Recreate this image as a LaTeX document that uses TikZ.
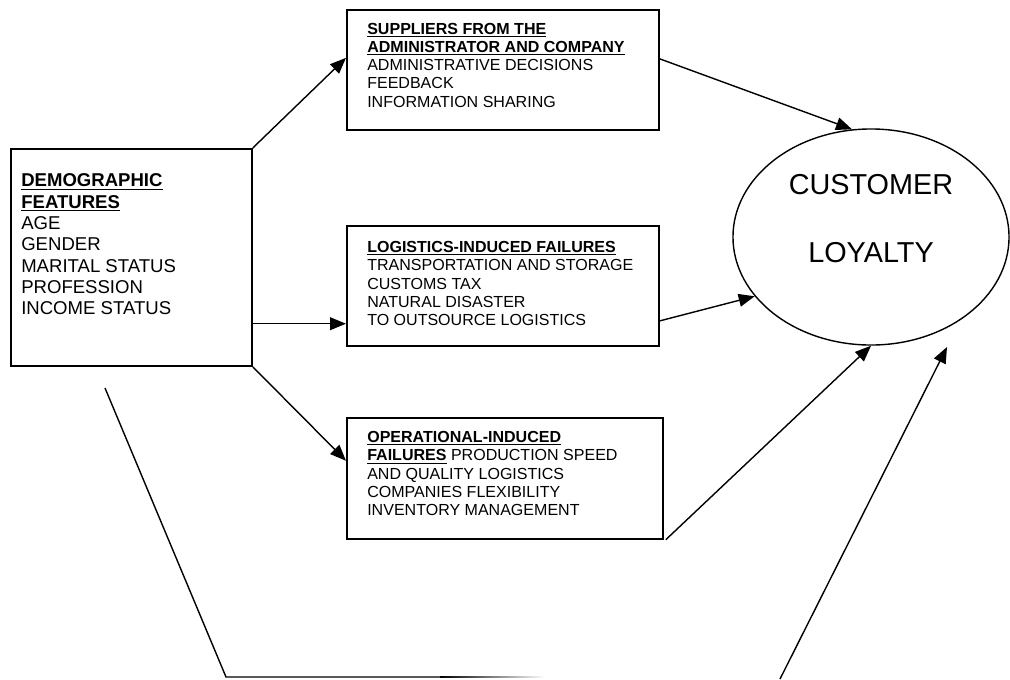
\documentclass[tikz,border=0pt]{standalone}
\usepackage{fontspec}
\setmainfont{Liberation Sans}
\usetikzlibrary{positioning, arrows.meta, shapes.geometric}
\tikzset{
    scatola/.style = {draw=black, line width=1.2pt, inner sep=0pt, anchor=north west},
    testo/.style = {align=left, anchor=north west, inner sep=0pt, font=\fontsize{11.4}{13}\selectfont},
    freccia/.style = {line width=1pt, arrows = {-Triangle[length=4mm, width=3.2mm]}}
}

\begin{document}
\begin{tikzpicture}[
    x=0.025cm, y=-0.025cm,
    testo demo/.style = {testo, font=\fontsize{13.2}{15.2}\selectfont},
    ellisse/.style = {ellipse, draw=black, line width=1pt, inner sep=0pt, minimum width=6.9cm, minimum height=5.4cm},
    testo grande/.style = {align=center, inner sep=0pt, font=\fontsize{20.5}{48.4}\selectfont},
    linea/.style = {line width=1pt}
    ]
    \useasboundingbox (0,0) rectangle (1010,679);

    %%% Boxes
    % demographic
    \node[scatola, minimum width=6.025cm, minimum height=5.425cm] (demo) at (10,148) {};
    \node[testo demo, below right=0.635cm and 0.275cm of demo.north west] (demotesto)
        {\underline{\textbf{DEMOGRAPHIC}}\\ \underline{\textbf{FEATURES}}\\ AGE\\ GENDER\\ MARITAL STATUS\\ PROFESSION\\ INCOME STATUS};

    % suppliers
    \node[scatola, minimum width=7.8cm, minimum height=3.0cm] (supp) at (346,9) {};
    \node[testo, below right=0.34cm and 0.525cm of supp.north west] (supptesto)
        {\underline{\textbf{SUPPLIERS FROM THE}}\\ \underline{\textbf{ADMINISTRATOR AND COMPANY}}\\ ADMINISTRATIVE DECISIONS\\ FEEDBACK\\ INFORMATION SHARING};

    % logistics
    \node[scatola, minimum width=7.8cm, minimum height=3.0cm] (logi) at (346,225) {};
    \node[testo, below right=0.4cm and 0.525cm of logi.north west] (logitesto)
        {\underline{\textbf{LOGISTICS-INDUCED FAILURES}}\\ TRANSPORTATION AND STORAGE\\ CUSTOMS TAX\\ NATURAL DISASTER\\ TO OUTSOURCE LOGISTICS};

    % operational
    \node[scatola, minimum width=7.9cm, minimum height=3.025cm] (oper) at (346,417) {};
    \node[testo, below right=0.35cm and 0.525cm of oper.north west] (opertesto)
        {\underline{\textbf{OPERATIONAL-INDUCED}}\\ \underline{\textbf{FAILURES}} PRODUCTION SPEED\\ AND QUALITY LOGISTICS\\ COMPANIES FLEXIBILITY\\ INVENTORY MANAGEMENT};

    %%% Customer loyalty
    \node[ellisse] (cl) at (871,237) {};
    \node[testo grande] (cltesto) at ([yshift=0.45cm]cl.center) {CUSTOMER\\ LOYALTY};

    %%% Arrows
    \coordinate (dl) at ([yshift=0.575cm]logi.south west);
    \draw[freccia] (demo.north east) -- ([yshift=0.3cm]supp.west);
    \draw[freccia] (demo.east |- dl) -- (dl);
    \draw[freccia] (demo.south east) -- ([yshift=0.44cm]oper.west);

    \draw[freccia] ([yshift=0.275cm]supp.east) -- (cl.100);
    \draw[freccia] ([yshift=-0.875cm]logi.east) -- (cl.207);
    \draw[freccia] ([xshift=0.05cm]oper.south east) -- (cl.south);

    % direct path, fading out at the bottom
    \coordinate (giu1) at (105,388);
    \coordinate (giu2) at (226,677);
    \coordinate (giu3) at (440,677);
    \coordinate (su1)  at (780,679);
    \coordinate (su2)  at (947,347);
    \draw[linea] (giu1) -- (giu2) -- (giu3);
    \shade[left color=black, right color=white] (440,676.3) rectangle (545,677.7);
    \draw[freccia] (su1) -- (su2);
\end{tikzpicture}
\end{document}
